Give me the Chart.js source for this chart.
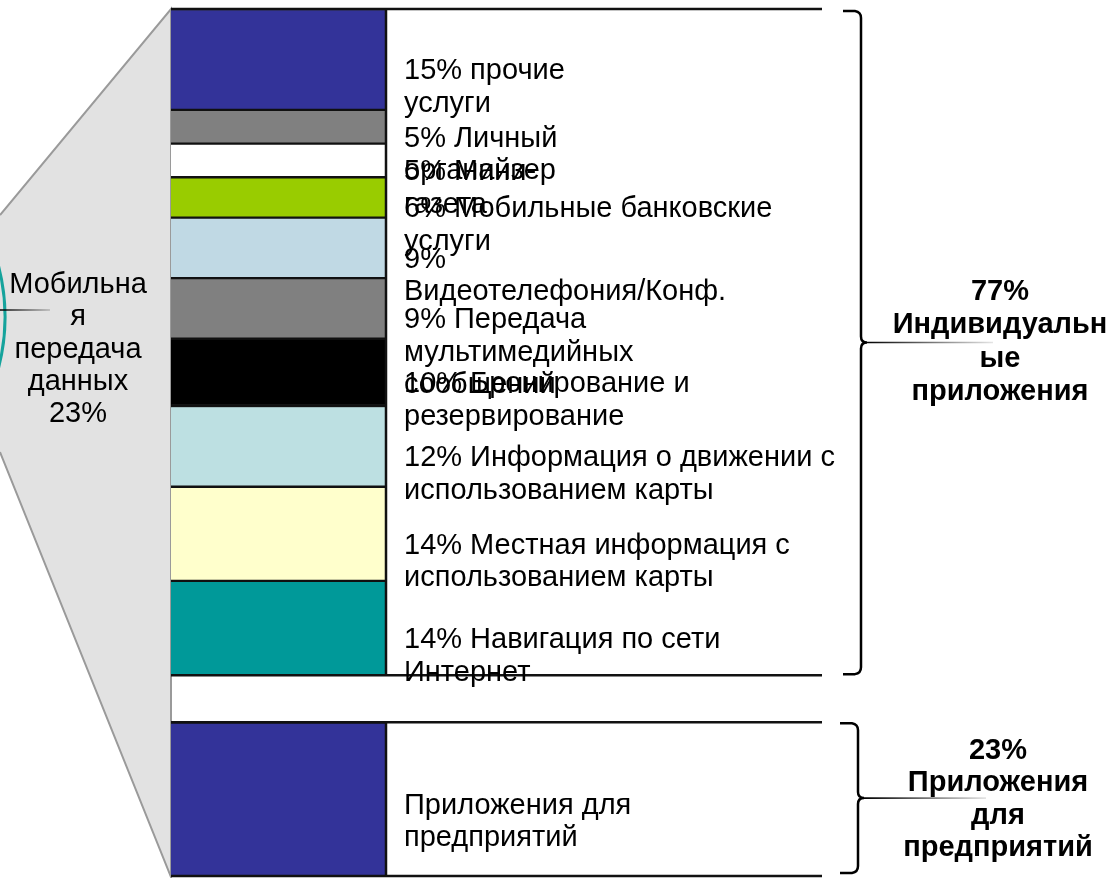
<!DOCTYPE html>
<html>
<head>
<meta charset="utf-8">
<script src="https://cdn.jsdelivr.net/npm/chart.js@4.4.1/dist/chart.umd.min.js"></script>
<style>
  html, body { margin: 0; padding: 0; background: #fff; }
  canvas { display: block; }
</style>
</head>
<body>
<canvas id="shareChart" width="1111" height="878"></canvas>
<script>
// Individual applications, bottom to top of the bar
const appShares = [14, 14, 12, 10, 9, 9, 6, 5, 5, 15];
const appColors = ['#009999', '#ffffcc', '#bde0e2', '#000000', '#808080', '#c0d9e4', '#99cc00', '#ffffff', '#808080', '#333399'];
const appLabels = [
    ['14% Навигация по сети', 'Интернет'],
    ['14% Местная информация с', 'использованием карты'],
    ['12% Информация о движении с', 'использованием карты'],
    ['10% Бронирование и', 'резервирование'],
    ['9% Передача', 'мультимедийных', 'сообщений'],
    ['9%', 'Видеотелефония/Конф.'],
    ['6% Мобильные банковские', 'услуги'],
    ['5% Мини-', 'газета'],
    ['5% Личный', 'органайзер'],
    ['15% прочие', 'услуги']
];

const enterpriseShare = 23;
const enterpriseColor = '#333399';
const enterpriseLabel = ['Приложения для', 'предприятий'];

const groupLabels = [
    ['77%', 'Индивидуальн', 'ые', 'приложения'],
    ['23%', 'Приложения', 'для', 'предприятий']
];
const pieLabel = ['Мобильна', 'я', 'передача', 'данных', '23%'];

const GAP = 7; // empty space between the two blocks
const FONT = '"Liberation Sans", Arial, sans-serif';

const appTotal = appShares.reduce((a, b) => a + b, 0);

// datasets: enterprise first, then a spacer, then the individual apps
const datasets = [{
    label: 'enterprise',
    data: [enterpriseShare],
    backgroundColor: enterpriseColor,
    borderColor: '#111',
    borderWidth: { top: 1.5, bottom: 0, left: 0, right: 0 },
    borderSkipped: false
}, {
    label: 'spacer',
    data: [GAP],
    backgroundColor: 'rgba(0,0,0,0)',
    borderWidth: 0
}];
appShares.forEach((v, i) => {
    datasets.push({
        label: appLabels[i].join(' '),
        data: [v],
        backgroundColor: appColors[i],
        borderColor: '#111',
        borderWidth: { top: 1.5, bottom: 1.5, left: 0, right: 0 },
        borderSkipped: false
    });
});

function drawBrace(ctx, x, y1, y2, tail) {
    const ym = (y1 + y2) / 2;
    ctx.save();
    ctx.strokeStyle = '#000';
    ctx.lineWidth = 2.5;
    ctx.beginPath();
    ctx.moveTo(x - 18, y1);
    ctx.lineTo(x - 6, y1);
    ctx.quadraticCurveTo(x, y1 + 1, x, y1 + 7);
    ctx.lineTo(x, ym - 6);
    ctx.quadraticCurveTo(x, ym, x + 6, ym);
    ctx.quadraticCurveTo(x, ym, x, ym + 6);
    ctx.lineTo(x, y2 - 7);
    ctx.quadraticCurveTo(x, y2 - 1, x - 6, y2);
    ctx.lineTo(x - 18, y2);
    ctx.stroke();
    const g = ctx.createLinearGradient(x + 6, 0, x + tail, 0);
    g.addColorStop(0, 'rgba(0,0,0,1)');
    g.addColorStop(1, 'rgba(0,0,0,0.1)');
    ctx.strokeStyle = g;
    ctx.lineWidth = 1.6;
    ctx.beginPath();
    ctx.moveTo(x + 6, ym);
    ctx.lineTo(x + tail, ym);
    ctx.stroke();
    ctx.restore();
}

function drawLines(ctx, lines, x, yFirst, lh, align, font) {
    ctx.font = font;
    ctx.textAlign = align;
    ctx.textBaseline = 'middle';
    ctx.fillStyle = '#000';
    lines.forEach((t, i) => ctx.fillText(t, x, yFirst + i * lh));
}

const decor = {
    id: 'decor',
    beforeDatasetsDraw(chart) {
        const { ctx, chartArea: a } = chart;
        // zoom-out trapezoid from the pie slice
        ctx.save();
        ctx.fillStyle = '#e2e2e2';
        ctx.beginPath();
        ctx.moveTo(a.left, a.top);
        ctx.lineTo(0, 215);
        ctx.lineTo(0, 452);
        ctx.lineTo(a.left, a.bottom);
        ctx.closePath();
        ctx.fill();
        ctx.strokeStyle = '#9a9a9a';
        ctx.lineWidth = 2;
        ctx.beginPath();
        ctx.moveTo(0, 215);
        ctx.lineTo(a.left, a.top);
        ctx.lineTo(a.left, a.bottom);
        ctx.lineTo(0, 452);
        ctx.stroke();
        // edge of the pie
        ctx.strokeStyle = '#15a39c';
        ctx.lineWidth = 3;
        ctx.beginPath();
        ctx.arc(-200, 317, 205, -0.25, 0.25);
        ctx.stroke();
        const g = ctx.createLinearGradient(0, 0, 50, 0);
        g.addColorStop(0, '#000');
        g.addColorStop(1, 'rgba(0,0,0,0.2)');
        ctx.strokeStyle = g;
        ctx.lineWidth = 1.5;
        ctx.beginPath();
        ctx.moveTo(0, 310);
        ctx.lineTo(50, 310);
        ctx.stroke();
        drawLines(ctx, pieLabel, 78, 285, 32.3, 'center', '29px ' + FONT);
        ctx.restore();
    },
    afterDatasetsDraw(chart) {
        const { ctx, chartArea: a, scales: { y } } = chart;
        const right = a.left + 651;
        const colX = a.right;
        const entTop = y.getPixelForValue(enterpriseShare);
        const appBottom = y.getPixelForValue(enterpriseShare + GAP);
        ctx.save();
        // table frame
        ctx.strokeStyle = '#111';
        ctx.lineWidth = 2.5;
        ctx.beginPath();
        [a.top, appBottom, entTop, a.bottom - 1].forEach(py => {
            ctx.moveTo(a.left, py);
            ctx.lineTo(right, py);
        });
        ctx.moveTo(colX, a.top);
        ctx.lineTo(colX, appBottom);
        ctx.moveTo(colX, entTop);
        ctx.lineTo(colX, a.bottom);
        ctx.stroke();

        // segment labels
        const regular = '29px ' + FONT;
        let base = enterpriseShare + GAP;
        appShares.forEach((v, i) => {
            const mid = y.getPixelForValue(base + v / 2);
            drawLines(ctx, appLabels[i], colX + 18, mid + 12, 32.5, 'left', regular);
            base += v;
        });
        drawLines(ctx, enterpriseLabel, colX + 18, y.getPixelForValue(enterpriseShare / 2) + 6, 32.5, 'left', regular);

        // braces and group labels
        const bx = a.left + 690;
        drawBrace(ctx, bx, a.top + 2, appBottom - 1, 132);
        drawBrace(ctx, bx - 3, entTop + 1, a.bottom - 4, 128);
        const bold = 'bold 29px ' + FONT;
        const upMid = (a.top + appBottom) / 2;
        const loMid = (entTop + a.bottom) / 2;
        drawLines(ctx, groupLabels[0], 1000, upMid - 1.5 * 33.3, 33.3, 'center', bold);
        drawLines(ctx, groupLabels[1], 998, loMid - 1.5 * 32.5, 32.5, 'center', bold);
        ctx.restore();
    }
};

new Chart(document.getElementById('shareChart').getContext('2d'), {
    type: 'bar',
    data: { labels: [''], datasets: datasets },
    options: {
        responsive: false,
        animation: false,
        layout: { padding: { left: 171, right: 725, top: 9, bottom: 1 } },
        datasets: { bar: { barPercentage: 1, categoryPercentage: 1 } },
        plugins: { legend: { display: false }, tooltip: { enabled: false } },
        scales: {
            x: { display: false, stacked: true },
            y: { display: false, stacked: true, min: 0, max: enterpriseShare + GAP + appTotal }
        }
    },
    plugins: [decor]
});
</script>
</body>
</html>
